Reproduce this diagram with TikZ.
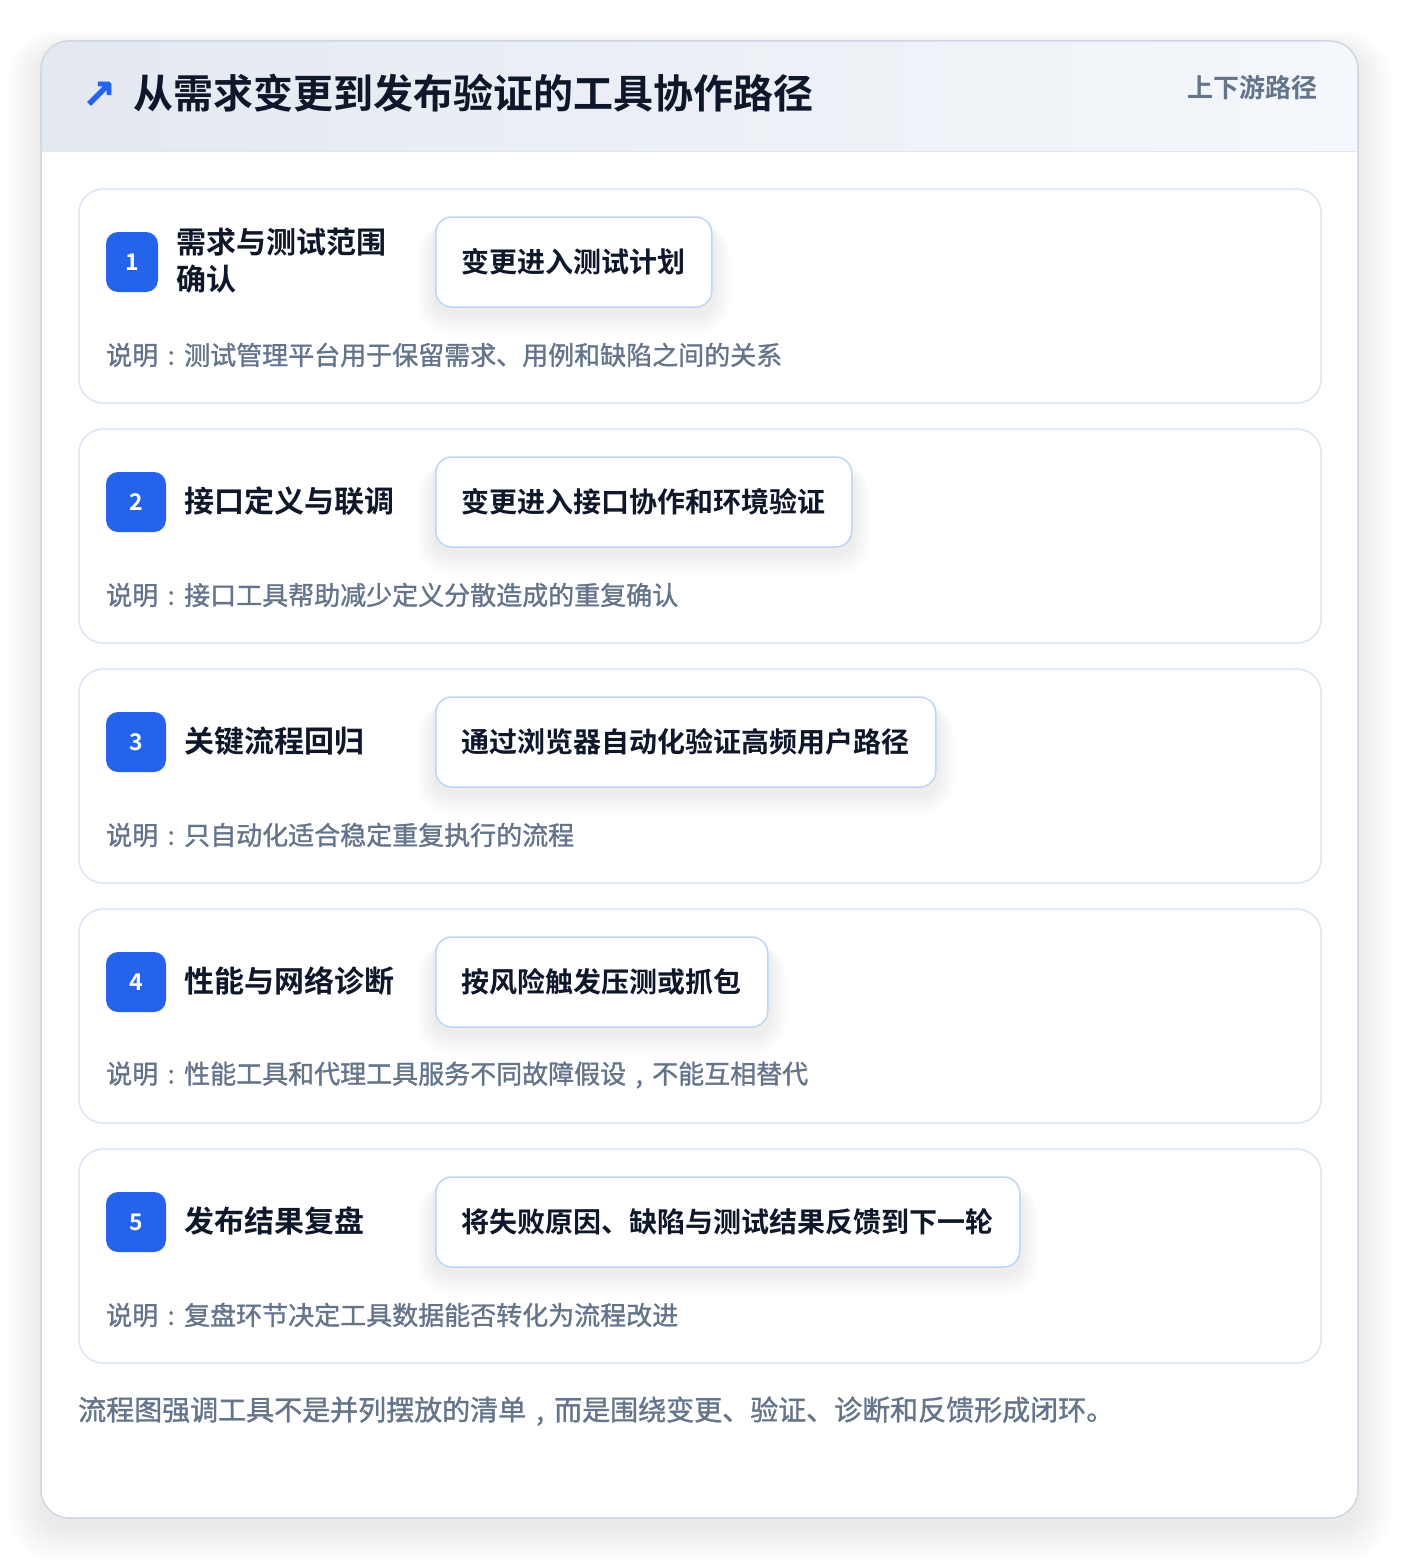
\documentclass[tikz,border=0pt]{standalone}
\usepackage{fontspec}
\setmainfont{Noto Sans CJK SC}
\newfontfamily\cjkb{Noto Sans CJK SC Bold}
\newfontfamily\cjkm{Noto Sans CJK SC}[FakeBold=1.2]
\newfontfamily\symf{DejaVu Sans Bold}[FakeBold=1.8]
\newcommand{\ccolon}{\makebox[1em][c]{:}}
\newcommand{\ccomma}{\makebox[1em][c]{,}}
\definecolor{accent}{HTML}{2563EB}
\definecolor{ink}{HTML}{0F172A}
\definecolor{muted}{HTML}{64748B}
\definecolor{cardline}{HTML}{DCE7F5}
\definecolor{toolline}{HTML}{BDD5F6}
\definecolor{outerline}{HTML}{CDD6E2}
\definecolor{headL}{HTML}{E4E9F1}
\definecolor{headR}{HTML}{F4F7FB}
\definecolor{bodybg}{HTML}{F8FAFC}
\tikzset{
  card/.style={draw=cardline, line width=1.5pt, fill=white, rounded corners=24pt},
  badge/.style={fill=accent, rounded corners=12pt, text=white, inner sep=0pt,
    minimum height=60pt, font=\cjkb\fontsize{23pt}{26pt}\selectfont},
  steptitle/.style={anchor=west, inner sep=0pt, text=ink, align=left,
    font=\cjkb\fontsize{30pt}{37pt}\selectfont},
  toolbox/.style={anchor=west, draw=toolline, line width=1.5pt, fill=white,
    rounded corners=16pt, minimum height=90pt, inner xsep=26pt, inner ysep=0pt,
    text=ink, font=\cjkb\fontsize{28pt}{32pt}\selectfont},
  desc/.style={anchor=west, inner sep=0pt, text=muted,
    font=\cjkm\fontsize{26pt}{30pt}\selectfont},
}
\begin{document}
\begin{tikzpicture}[x=1pt,y=-1pt]
\useasboundingbox (0,0) rectangle (1400,1560);
\fill[white] (0,0) rectangle (1400,1560);
% outer shadow
\foreach \i in {1,...,20}{
  \fill[black, opacity=0.0045, rounded corners=28pt+\i pt]
    (41-1.7*\i, 41-1.0*\i+10) rectangle (1358+1.7*\i, 1518+1.7*\i+10);
}
% outer card
\fill[bodybg, rounded corners=28pt] (41,41) rectangle (1358,1518);
\begin{scope}
  \clip[rounded corners=28pt] (41,41) rectangle (1358,1518);
  \shade[left color=headL, right color=headR] (41,41) rectangle (1358,151);
  \fill[white] (41,152) rectangle (1358,1518);
\end{scope}
\draw[cardline, line width=1.5pt] (41,151.5) -- (1358,151.5);
\draw[outerline, line width=1.5pt, rounded corners=28pt] (41,41) rectangle (1358,1518);
% header
\node[inner sep=0pt, text=accent, font=\symf\fontsize{40pt}{44pt}\selectfont] (arrow) at (99,95) {↗};
\node[anchor=west, inner sep=0pt, text=ink, font=\cjkb\fontsize{40pt}{46pt}\selectfont] (title) at (133,93) {从需求变更到发布验证的工具协作路径};
\node[anchor=east, inner sep=0pt, text=muted, font=\cjkb\fontsize{26pt}{30pt}\selectfont] (tag) at (1318,88) {上下游路径};
% cards
\foreach \k/\num/\bw/\ttl/\tool/\dsc in {
  1/1/52/{需求与测试范围\\确认}/{变更进入测试计划}/{说明\ccolon 测试管理平台用于保留需求、用例和缺陷之间的关系},
  2/2/60/{接口定义与联调}/{变更进入接口协作和环境验证}/{说明\ccolon 接口工具帮助减少定义分散造成的重复确认},
  3/3/60/{关键流程回归}/{通过浏览器自动化验证高频用户路径}/{说明\ccolon 只自动化适合稳定重复执行的流程},
  4/4/60/{性能与网络诊断}/{按风险触发压测或抓包}/{说明\ccolon 性能工具和代理工具服务不同故障假设\ccomma 不能互相替代},
  5/5/60/{发布结果复盘}/{将失败原因、缺陷与测试结果反馈到下一轮}/{说明\ccolon 复盘环节决定工具数据能否转化为流程改进}}{
  \pgfmathsetmacro{\top}{189+240*(\k-1)}
  \draw[card] (79,\top) rectangle (1321,\top+214);
  \node[badge, minimum width=\bw pt] (badge\k) at (106+\bw/2,\top+73) {\num};
  \node[steptitle] (stitle\k) at (106+\bw+18,\top+72) {\ttl};
  \node[toolbox, draw=none, fill=none, text=white, text opacity=0] (ghost\k) at (435,\top+73) {\tool};
  % tool box shadow
  \foreach \j in {1,...,18}{
    \fill[black, opacity=0.0035, rounded corners=16pt+\j pt]
      ([xshift=-\j pt, yshift=-10pt+0.2*\j pt]ghost\k.north west) rectangle
      ([xshift=\j pt, yshift=-6pt-1.2*\j pt]ghost\k.south east);
  }
  \node[toolbox] (tool\k) at (435,\top+73) {\tool};
  \node[desc] (desc\k) at (106,\top+166) {\dsc};
}
\node[anchor=west, inner sep=0pt, text=muted, font=\cjkm\fontsize{28pt}{32pt}\selectfont] (footer) at (78,1411) {流程图强调工具不是并列摆放的清单\ccomma 而是围绕变更、验证、诊断和反馈形成闭环。};
\end{tikzpicture}
\end{document}
